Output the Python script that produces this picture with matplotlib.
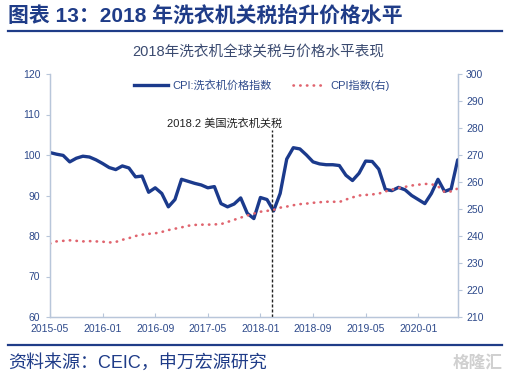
import matplotlib
matplotlib.use("Agg")
import matplotlib.pyplot as plt
import numpy as np
from matplotlib.lines import Line2D

# ---------------- data ----------------
months = ["2015-05", "2015-06", "2015-07", "2015-08", "2015-09", "2015-10", "2015-11", "2015-12",
          "2016-01", "2016-02", "2016-03", "2016-04", "2016-05", "2016-06", "2016-07", "2016-08",
          "2016-09", "2016-10", "2016-11", "2016-12", "2017-01", "2017-02", "2017-03", "2017-04",
          "2017-05", "2017-06", "2017-07", "2017-08", "2017-09", "2017-10", "2017-11", "2017-12",
          "2018-01", "2018-02", "2018-03", "2018-04", "2018-05", "2018-06", "2018-07", "2018-08",
          "2018-09", "2018-10", "2018-11", "2018-12", "2019-01", "2019-02", "2019-03", "2019-04",
          "2019-05", "2019-06", "2019-07", "2019-08", "2019-09", "2019-10", "2019-11", "2019-12",
          "2020-01", "2020-02", "2020-03", "2020-04", "2020-05", "2020-06", "2020-07"]

cpi_washer = [100.6, 100.2, 99.9, 98.3, 99.2, 99.7, 99.5, 98.8,
              97.9, 96.9, 96.4, 97.3, 96.8, 94.6, 94.8, 90.8,
              91.9, 90.5, 87.2, 89.0, 94.0, 93.5, 93.0, 92.6,
              91.9, 92.2, 88.0, 87.2, 87.9, 89.4, 85.6, 84.3,
              89.5, 89.0, 86.2, 90.5, 99.0, 101.8, 101.5, 100.0,
              98.3, 97.8, 97.6, 97.6, 97.4, 95.0, 93.7, 95.5,
              98.5, 98.4, 96.5, 91.5, 91.2, 92.0, 91.4, 90.0,
              89.0, 88.0, 90.5, 94.0, 91.0, 91.6, 98.8]

cpi_index = [237.2, 238.0, 238.2, 238.4, 238.2, 238.0, 238.1, 238.0,
             237.9, 237.6, 237.8, 238.6, 239.2, 240.0, 240.5, 240.8,
             241.0, 241.5, 242.2, 242.7, 243.2, 243.8, 244.1, 244.2,
             244.2, 244.3, 244.4, 245.2, 246.0, 246.8, 247.6, 248.3,
             249.0, 249.3, 249.7, 250.5, 250.9, 251.4, 251.8, 252.0,
             252.3, 252.5, 252.7, 252.7, 252.6, 253.5, 254.3, 255.0,
             255.2, 255.4, 255.7, 256.5, 257.2, 257.8, 258.2, 258.7,
             259.0, 259.3, 259.2, 258.4, 256.3, 256.5, 257.6]

xtick_labels = ["2015-05", "2016-01", "2016-09", "2017-05", "2018-01", "2018-09", "2019-05", "2020-01"]
left_ticks = [60, 70, 80, 90, 100, 110, 120]
right_ticks = [210, 220, 230, 240, 250, 260, 270, 280, 290, 300]
tariff_pos = 33.7  # position of 2018.2 tariff marker (month index)

header = "图表 13：2018 年洗衣机关税抬升价格水平"
title = "2018年洗衣机全球关税与价格水平表现"
series1_name = "CPI:洗衣机价格指数"
series2_name = "CPI指数(右)"
annot = "2018.2 美国洗衣机关税"
source = "资料来源：CEIC，申万宏源研究"

# ---------------- style ----------------
FAM = ["Liberation Sans", "Noto Sans CJK SC", "DejaVu Sans"]
plt.rcParams["font.family"] = FAM
NAVY = "#1F3C88"
LINE_BLUE = "#1B3A8C"
RED = "#E0646E"
TICK_C = "#2E4A8B"
SPINE_C = "#B8C6DA"

W, H = 511, 378
fig = plt.figure(figsize=(W / 100, H / 100), dpi=100)

ax = fig.add_axes([50 / W, 1 - 317 / H, (457.7 - 50) / W, (317 - 74) / H])
ax2 = ax.twinx()

x = np.arange(len(months))
ax.plot(x, cpi_washer, color=LINE_BLUE, lw=2.4, solid_joinstyle="round", solid_capstyle="round", zorder=3)
ax2.plot(x, cpi_index, color=RED, lw=1.9, linestyle=(0, (0.15, 2.4)), dash_capstyle="round", zorder=2)

ax.set_xlim(0, len(months) - 1)
ax.set_ylim(60, 120)
ax2.set_ylim(210, 300)

xt = [months.index(m) for m in xtick_labels]
ax.set_xticks(xt)
ax.set_xticklabels(xtick_labels)
ax.set_yticks(left_ticks)
ax2.set_yticks(right_ticks)

for a in (ax, ax2):
    for s in a.spines.values():
        s.set_color(SPINE_C)
        s.set_linewidth(0.9)
    a.spines["top"].set_visible(False)
    a.tick_params(colors=SPINE_C, labelcolor=TICK_C, labelsize=7.5, length=3, width=0.8)
ax.tick_params(axis="x", direction="in", pad=5)
ax.tick_params(axis="y", pad=4)
ax2.tick_params(axis="y", pad=3)

# tariff marker
ax.vlines(tariff_pos, 60, 106.2, colors="#222222", linestyles=(0, (2.2, 1.4)), lw=1.0, zorder=4)
ax.text(tariff_pos + 1.65, 107.9, annot, ha="right", va="center", fontsize=8, color="#222222")

# legend
h1 = Line2D([], [], color=LINE_BLUE, lw=2.4)
h2 = Line2D([], [], color=RED, lw=1.9, linestyle=(0, (0.15, 2.4)), dash_capstyle="round")
leg = ax.legend([h1, h2], [series1_name, series2_name], ncol=2, frameon=False,
                loc="center", bbox_to_anchor=((262 - 50) / 407.7, (317 - 85) / 243),
                fontsize=8, handlelength=3.0, handletextpad=0.4, columnspacing=1.9)
for t in leg.get_texts():
    t.set_color(TICK_C)

# header, title, footer
fig.text(8 / W, 1 - 17 / H, header, ha="left", va="center", fontsize=15, fontweight="bold", color=NAVY)
fig.add_artist(Line2D([8 / W, 502 / W], [1 - 31 / H, 1 - 31 / H], color=NAVY, lw=1.6))
fig.text(258 / W, 1 - 52 / H, title, ha="center", va="center", fontsize=10.5, color="#3A4A70")
fig.add_artist(Line2D([8 / W, 502 / W], [1 - 345 / H, 1 - 345 / H], color=NAVY, lw=1.6))
fig.text(8 / W, 1 - 363 / H, source, ha="left", va="center", fontsize=13, color=NAVY)
fig.text(503 / W, 1 - 363 / H, "格隆汇", ha="right", va="center", fontsize=12, color="#D0D0D0",
         fontweight="bold")

fig.savefig("out.png", dpi=100)
